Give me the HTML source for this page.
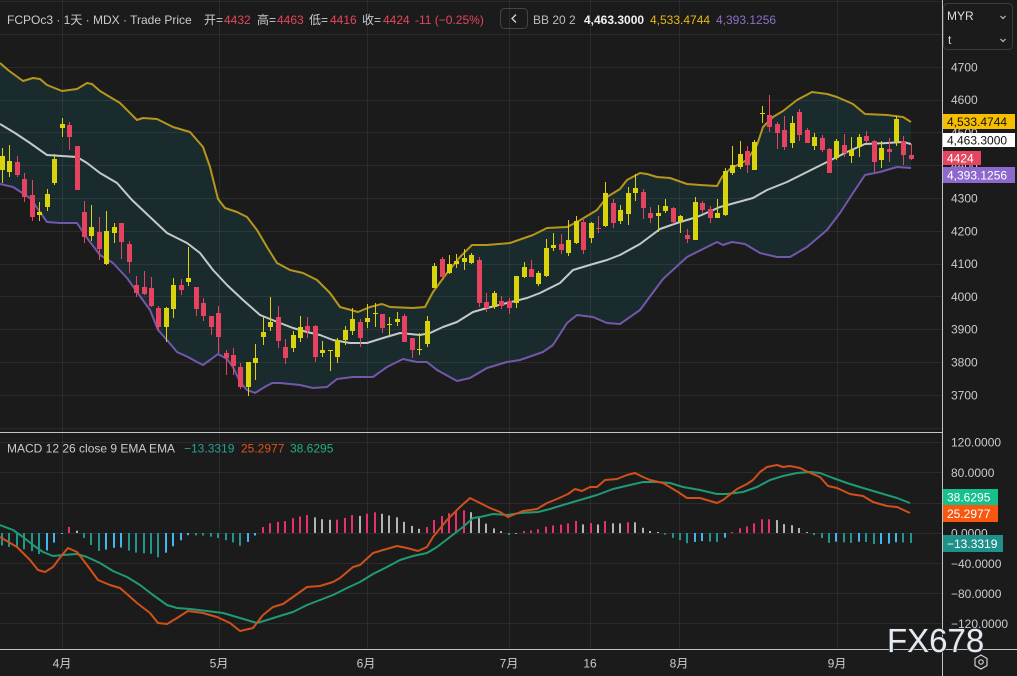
<!DOCTYPE html>
<html>
<head>
<meta charset="utf-8">
<style>
  html,body{margin:0;padding:0;background:#1b1b1b;}
  body{width:1017px;height:676px;overflow:hidden;}
  svg{display:block;}
  text{font-family:"Liberation Sans","Noto Sans CJK SC",sans-serif;}
</style>
</head>
<body>
<svg id="chart" width="1017" height="676" viewBox="0 0 1017 676" xmlns="http://www.w3.org/2000/svg">
  <defs>
    <clipPath id="mainClip"><rect x="0" y="0" width="942" height="432"/></clipPath>
    <clipPath id="macdClip"><rect x="0" y="433" width="942" height="216"/></clipPath>
  </defs>
  <rect x="0" y="0" width="1017" height="676" fill="#1b1b1b"/>

  <!-- Bollinger band fill -->
  <g clip-path="url(#mainClip)">
    <polygon fill="#192b2c" points="0,63 8,70 23,81 33,78 40,79 47,85 62,91 77,89 87,83 92,84 100,91 120,103 137,120 143,118 157,119 173,127 190,132 203,147 210,167 218,199 225,208 237,212 247,217 257,230 267,247 277,263 290,270 303,273 317,280 330,293 340,307 358,312 370,307 382,304 390,307 413,308 425,307 433,292 447,273 460,257 472,245 487,245 510,243 533,235 547,228 567,227 577,222 597,210 607,197 620,189 627,180 640,173 647,174 657,177 670,178 687,184 700,185 717,186 722,177 730,169 747,160 757,145 763,127 773,117 783,111 797,100 812,92 827,94 837,97 853,104 865,114 887,115 903,117 911,122 911,432 0,432"/>
    <polygon fill="#1b1b1b" points="0,184 13,187 30,198 47,222 60,223 77,223 87,238 100,255 113,263 127,278 137,292 150,310 158,330 167,340 177,352 188,357 197,362 203,365 210,360 218,354 227,359 233,367 240,382 247,390 255,393 263,388 272,383 280,383 300,385 313,388 327,387 337,379 353,377 373,377 387,367 403,359 417,362 427,362 437,370 457,381 470,378 487,368 507,362 520,360 543,352 553,345 567,323 577,315 593,317 607,323 620,324 640,310 663,279 687,257 717,242 723,245 732,242 745,244 760,253 777,257 790,257 807,247 827,230 840,213 853,193 865,175 880,172 897,167 911,168 911,432 0,432"/>
  </g>

  <!-- grid -->
  <g stroke="rgba(255,255,255,0.075)" stroke-width="1">
    <line x1="0" x2="942" y1="1.5" y2="1.5"/>
    <line x1="0" x2="942" y1="34.5" y2="34.5"/>
    <line x1="0" x2="942" y1="67.5" y2="67.5"/>
    <line x1="0" x2="942" y1="100.5" y2="100.5"/>
    <line x1="0" x2="942" y1="132.5" y2="132.5"/>
    <line x1="0" x2="942" y1="165.5" y2="165.5"/>
    <line x1="0" x2="942" y1="198.5" y2="198.5"/>
    <line x1="0" x2="942" y1="231.5" y2="231.5"/>
    <line x1="0" x2="942" y1="264.5" y2="264.5"/>
    <line x1="0" x2="942" y1="296.5" y2="296.5"/>
    <line x1="0" x2="942" y1="329.5" y2="329.5"/>
    <line x1="0" x2="942" y1="362.5" y2="362.5"/>
    <line x1="0" x2="942" y1="395.5" y2="395.5"/>
    <line x1="0" x2="942" y1="428.5" y2="428.5"/>
    <line x1="0" x2="942" y1="442.5" y2="442.5"/>
    <line x1="0" x2="942" y1="472.5" y2="472.5"/>
    <line x1="0" x2="942" y1="503.5" y2="503.5"/>
    <line x1="0" x2="942" y1="533.5" y2="533.5"/>
    <line x1="0" x2="942" y1="563.5" y2="563.5"/>
    <line x1="0" x2="942" y1="593.5" y2="593.5"/>
    <line x1="0" x2="942" y1="623.5" y2="623.5"/>
    <line x1="62.5" x2="62.5" y1="0" y2="649"/>
    <line x1="219.5" x2="219.5" y1="0" y2="649"/>
    <line x1="367.5" x2="367.5" y1="0" y2="649"/>
    <line x1="509.5" x2="509.5" y1="0" y2="649"/>
    <line x1="590.5" x2="590.5" y1="0" y2="649"/>
    <line x1="679.5" x2="679.5" y1="0" y2="649"/>
    <line x1="837.5" x2="837.5" y1="0" y2="649"/>
  </g>

  <!-- band lines -->
  <g clip-path="url(#mainClip)" fill="none" stroke-width="2" stroke-linejoin="round">
    <polyline stroke="#b8951c" points="0,63 8,70 23,81 33,78 40,79 47,85 62,91 77,89 87,83 92,84 100,91 120,103 137,120 143,118 157,119 173,127 190,132 203,147 210,167 218,199 225,208 237,212 247,217 257,230 267,247 277,263 290,270 303,273 317,280 330,293 340,307 358,312 370,307 382,304 390,307 413,308 425,307 433,292 447,273 460,257 472,245 487,245 510,243 533,235 547,228 567,227 577,222 597,210 607,197 620,189 627,180 640,173 647,174 657,177 670,178 687,184 700,185 717,186 722,177 730,169 747,160 757,145 763,127 773,117 783,111 797,100 812,92 827,94 837,97 853,104 865,114 887,115 903,117 911,122"/>
    <polyline stroke="#c5c9c9" points="0,124 15,133 30,143 47,155 77,157 87,163 100,173 117,183 132,200 150,217 167,233 187,243 200,253 213,270 227,285 243,300 260,315 280,323 293,328 307,332 320,335 333,340 350,343 367,343 383,338 400,333 420,335 430,333 443,327 457,322 473,312 487,308 507,303 527,298 540,293 560,283 573,270 593,264 607,260 620,255 640,244 660,229 677,223 697,217 720,207 753,198 767,190 787,182 807,172 827,162 847,152 865,144 887,143 903,142 911,144"/>
    <polyline stroke="#7357ab" points="0,184 13,187 30,198 47,222 60,223 77,223 87,238 100,255 113,263 127,278 137,292 150,310 158,330 167,340 177,352 188,357 197,362 203,365 210,360 218,354 227,359 233,367 240,382 247,390 255,393 263,388 272,383 280,383 300,385 313,388 327,387 337,379 353,377 373,377 387,367 403,359 417,362 427,362 437,370 457,381 470,378 487,368 507,362 520,360 543,352 553,345 567,323 577,315 593,317 607,323 620,324 640,310 663,279 687,257 717,242 723,245 732,242 745,244 760,253 777,257 790,257 807,247 827,230 840,213 853,193 865,175 880,172 897,167 911,168"/>
  </g>

  <!-- candles (filled by script) -->
  <g id="candles" clip-path="url(#mainClip)"></g>

  <!-- MACD histogram (script) -->
  <g id="hist" clip-path="url(#macdClip)"></g>

  <!-- MACD lines -->
  <g clip-path="url(#macdClip)" fill="none" stroke-width="2" stroke-linejoin="round">
    <polyline id="sigLine" stroke="#1f9a74" points="0,525 13,530 23,537 33,545 43,552 53,556 63,555 77,554 87,557 100,563 113,571 127,577 140,585 153,595 167,605 177,608 190,609 207,611 223,613 240,618 257,623 267,620 283,615 293,612 307,605 320,600 333,595 347,588 360,582 373,574 387,567 400,560 413,556 427,553 437,547 450,537 463,527 473,518 480,517 493,514 507,515 520,513 538,512 550,509 563,505 580,500 597,495 613,489 630,485 643,482 657,482 670,483 683,487 700,490 717,494 727,494 743,492 757,487 770,480 783,476 797,473 810,472 820,473 833,478 847,483 863,488 880,493 897,498 910,503"/>
    <polyline id="macLine" stroke="#d0501b" points="0,537 17,547 30,560 38,570 45,572 53,567 62,555 68,548 77,552 87,565 98,580 110,585 120,588 128,595 137,603 150,613 158,623 167,624 177,618 188,611 203,613 217,617 230,623 240,631 253,628 263,615 273,607 283,604 293,597 307,587 320,586 333,582 340,578 353,567 360,565 373,553 383,550 397,546 407,548 418,551 427,547 433,537 447,520 460,507 470,498 480,503 490,508 500,512 508,517 513,515 523,511 537,509 547,503 557,499 568,494 575,489 582,491 590,487 597,487 605,480 617,479 627,475 635,473 643,477 650,480 663,483 678,492 687,498 700,498 717,503 723,500 737,489 747,484 753,480 760,472 767,467 777,465 783,467 790,466 800,468 808,472 820,477 828,486 837,488 850,494 863,496 873,502 887,506 897,507 910,513"/>
  </g>

  <!-- separators -->
  <g stroke="#c4c4c4" stroke-width="1">
    <line x1="0" x2="942" y1="432.5" y2="432.5"/>
    <line x1="0" x2="1017" y1="649.5" y2="649.5"/>
    <line x1="942.5" x2="942.5" y1="0" y2="676"/>
  </g>

  <!-- header -->
  <g font-size="12" fill="#c9cbd0">
    <text x="7" y="24">FCPOc3 · 1天 · MDX · Trade Price</text>
    <text x="204" y="24">开=</text><text x="224" y="24" fill="#e5455f">4432</text>
    <text x="257" y="24">高=</text><text x="277" y="24" fill="#e5455f">4463</text>
    <text x="309" y="24">低=</text><text x="330" y="24" fill="#e5455f">4416</text>
    <text x="362" y="24">收=</text><text x="383" y="24" fill="#e5455f">4424</text>
    <text x="415" y="24" fill="#e5455f">-11 (−0.25%)</text>
  </g>
  <rect x="500.5" y="8.5" width="27" height="20" rx="4" fill="none" stroke="#444"/>
  <polyline points="516,14.5 512,18.5 516,22.5" fill="none" stroke="#cfcfcf" stroke-width="1.4"/>
  <g font-size="12">
    <text x="533" y="24" fill="#b9bcc2">BB 20 2</text>
    <text x="584" y="24" fill="#f2f2f2" font-weight="bold">4,463.3000</text>
    <text x="650" y="24" fill="#e8b910">4,533.4744</text>
    <text x="716" y="24" fill="#8a70c8">4,393.1256</text>
  </g>

  <!-- currency box -->
  <rect x="943.5" y="3.5" width="69" height="46" rx="4" fill="#1b1b1b" stroke="#3c3c3c"/>
  <text x="947" y="20" font-size="12" fill="#dcdcdc">MYR</text>
  <text x="948" y="44" font-size="12" fill="#dcdcdc">t</text>
  <polyline points="1000.5,16 1003,18.5 1005.5,16" fill="none" stroke="#bdbdbd" stroke-width="1.2"/>
  <polyline points="1000.5,39 1003,41.5 1005.5,39" fill="none" stroke="#bdbdbd" stroke-width="1.2"/>

  <!-- price axis labels -->
  <g font-size="12" fill="#c9cbd0">
    <text x="951" y="71.3">4700</text>
    <text x="951" y="104.1">4600</text>
    <text x="951" y="136.9">4500</text>
    <text x="951" y="169.7">4400</text>
    <text x="951" y="202.5">4300</text>
    <text x="951" y="235.3">4200</text>
    <text x="951" y="268.1">4100</text>
    <text x="951" y="300.9">4000</text>
    <text x="951" y="333.7">3900</text>
    <text x="951" y="366.5">3800</text>
    <text x="951" y="399.3">3700</text>
  </g>
  <!-- price boxes -->
  <rect x="943" y="114" width="72" height="15" fill="#f5bf00"/>
  <text x="947" y="126" font-size="12" fill="#111">4,533.4744</text>
  <rect x="943" y="133" width="72" height="14" fill="#ffffff"/>
  <text x="947" y="144.5" font-size="12" fill="#111">4,463.3000</text>
  <rect x="943" y="151" width="38" height="14" fill="#e5455f"/>
  <text x="947" y="162.5" font-size="12" fill="#ffffff">4424</text>
  <rect x="943" y="167" width="72" height="16" fill="#8d69cf"/>
  <text x="947" y="179.5" font-size="12" fill="#ffffff">4,393.1256</text>

  <!-- MACD legend -->
  <g font-size="12">
    <text x="7" y="452.5" fill="#c9cbd0">MACD 12 26 close 9 EMA EMA</text>
    <text x="184" y="452.5" fill="#26a096">−13.3319</text>
    <text x="241" y="452.5" fill="#e0541c">25.2977</text>
    <text x="290" y="452.5" fill="#22b07f">38.6295</text>
  </g>

  <!-- MACD axis -->
  <g font-size="12" fill="#c9cbd0">
    <text x="951" y="446.5">120.0000</text>
    <text x="951" y="476.8">80.0000</text>
    <text x="951" y="507.3">40.0000</text>
    <text x="951" y="537.5">0.0000</text>
    <text x="951" y="567.8">−40.0000</text>
    <text x="951" y="597.8">−80.0000</text>
    <text x="951" y="627.8">−120.0000</text>
  </g>
  <rect x="943" y="489" width="55" height="16" fill="#16c08b"/>
  <text x="947" y="501.5" font-size="12" fill="#ffffff">38.6295</text>
  <rect x="943" y="505" width="55" height="17" fill="#f8570e"/>
  <text x="947" y="518" font-size="12" fill="#ffffff">25.2977</text>
  <rect x="943" y="535" width="60" height="17" fill="#1e918a"/>
  <text x="947" y="548" font-size="12" fill="#ffffff">−13.3319</text>

  <!-- time axis -->
  <g font-size="12" fill="#c9cbd0" text-anchor="middle">
    <text x="62" y="667.5">4月</text>
    <text x="219" y="667.5">5月</text>
    <text x="366" y="667.5">6月</text>
    <text x="509" y="667.5">7月</text>
    <text x="590" y="667.5">16</text>
    <text x="679" y="667.5">8月</text>
    <text x="837" y="667.5">9月</text>
  </g>
  <!-- settings icon -->
  <polygon points="981,655 987,658.5 987,665.5 981,669 975,665.5 975,658.5" fill="none" stroke="#cfcfcf" stroke-width="1.2"/>
  <circle cx="981" cy="662" r="2.2" fill="none" stroke="#cfcfcf" stroke-width="1.2"/>

  <!-- watermark -->
  <text x="887" y="652" font-size="33" fill="#e4ebf3" stroke="#2a2a2a" stroke-width="1.5" paint-order="stroke">FX678</text>
</svg>

<script>
(function(){
  var NS="http://www.w3.org/2000/svg";
  // [up(1)/down(0), bodyTop, bodyBottom, wickTop, wickBottom] in pixel coordinates
  var C=[[1,156,170,148,183],[1,161,172,145,177],[0,162,175,156,177],[0,179,197,173,202],[0,195,217,180,221],[1,212,215,202,221],[1,194,207,189,211],[1,159,183,154,185],[1,124,128,118,137],[0,125,137,122,150],
  [0,146,190,146,190],[0,212,237,201,243],[1,227,236,205,241],[0,232,249,217,260],[1,231,264,211,265],[1,227,233,223,243],[0,223,242,223,259],[0,244,262,241,273],[0,285,293,276,297],[0,287,294,271,295],
  [0,288,306,277,307],[0,308,327,306,330],[1,308,327,307,342],[1,285,309,278,318],[0,285,290,279,295],[1,278,282,247,286],[0,287,309,287,316],[0,303,316,298,321],[0,316,327,316,335],[0,313,337,306,353],
  [0,353,358,350,375],[0,355,366,348,375],[0,367,387,363,389],[1,362,387,362,396],[1,358,363,344,380],[1,332,337,317,345],[1,322,327,297,331],[0,317,341,306,348],[0,347,358,339,364],[1,335,348,331,352],
  [1,327,338,316,342],[0,326,331,317,338],[0,326,357,325,362],[1,350,353,341,357],[1,350,351,350,371],[1,340,357,338,363],[1,330,340,326,345],[1,319,331,308,335],[0,322,338,319,347],[1,318,322,304,328],
  [1,313,314,303,327],[0,314,328,314,333],[1,324,325,317,335],[1,319,322,312,326],[0,316,342,314,342],[0,338,350,338,358],[1,349,350,333,355],[1,321,344,316,347],[1,266,288,263,288],[0,259,277,257,277],
  [1,264,273,255,274],[1,261,264,254,268],[1,258,262,249,270],[1,255,263,253,264],[0,260,303,257,307],[0,302,308,293,312],[1,293,307,291,309],[0,301,306,296,309],[0,301,308,298,314],[1,276,303,276,308],
  [1,267,277,262,278],[0,269,277,260,277],[1,273,284,271,286],[1,248,276,239,277],[1,245,248,233,251],[0,244,250,234,254],[1,240,253,220,256],[1,221,243,216,244],[0,222,250,218,254],[1,223,238,222,243],
  [0,228,229,216,233],[1,193,226,182,227],[0,203,223,199,228],[1,210,221,205,224],[1,193,214,187,225],[1,188,193,174,201],[0,192,208,189,219],[0,213,218,207,223],[1,213,216,205,232],[1,206,211,199,213],
  [0,208,222,207,224],[1,216,222,215,233],[0,235,239,229,243],[1,202,240,197,240],[0,203,210,201,213],[0,209,218,206,223],[1,213,218,199,218],[1,171,215,168,216],[1,165,173,146,175],[1,154,167,141,169],
  [0,151,165,146,173],[1,142,170,140,170],[1,113,114,106,123],[0,115,127,95,132],[0,124,133,122,149],[0,130,147,116,150],[1,123,143,116,148],[0,112,135,109,141],[0,130,143,128,143],[1,137,146,133,150],
  [0,138,150,135,152],[0,149,173,148,173],[1,141,158,139,160],[0,145,153,134,157],[1,150,156,137,163],[1,137,147,134,157],[0,136,141,131,143],[0,141,162,140,172],[1,148,160,141,168],[0,149,152,138,162],
  [1,119,142,116,146],[0,141,155,136,165],[0,155,159,144,160]];
  var UP="#d9d30c", DN="#e5435f";
  var g=document.getElementById("candles");
  var s="";
  for(var i=0;i<C.length;i++){
    var c=C[i], x=2+7.45*i, xr=Math.round(x), col=c[0]?UP:DN;
    s+='<rect x="'+(xr)+'" y="'+c[3]+'" width="1" height="'+Math.max(1,c[4]-c[3])+'" fill="'+col+'"/>';
    s+='<rect x="'+(xr-2)+'" y="'+c[1]+'" width="5" height="'+Math.max(1,c[2]-c[1])+'" fill="'+col+'"/>';
  }
  g.innerHTML=s;

  function pts(id){return document.getElementById(id).getAttribute("points").trim().split(/\s+/).map(function(p){return p.split(",").map(Number);});}
  function interp(P,x){
    if(x<=P[0][0]) return P[0][1];
    for(var k=1;k<P.length;k++){ if(x<=P[k][0]){var a=P[k-1],b=P[k];return a[1]+(b[1]-a[1])*(x-a[0])/(b[0]-a[0]);} }
    return P[P.length-1][1];
  }
  var sig=pts("sigLine"), mac=pts("macLine");
  var h2="", prev=null;
  for(var j=0;j<123;j++){
    var hx=2+7.45*j, h=interp(sig,hx)-interp(mac,hx), col;
    if(h>=0){ col=(prev===null||h>=prev)?"#e8306c":"#b3b3b3"; }
    else { col=(prev===null||h<prev)?"#1f978f":"#40b6f2"; }
    prev=h;
    var hh=Math.max(1,Math.abs(h));
    var yy=h>=0?533-hh:533;
    h2+='<rect x="'+(Math.round(hx)-1)+'" y="'+yy.toFixed(1)+'" width="2" height="'+hh.toFixed(1)+'" fill="'+col+'"/>';
  }
  document.getElementById("hist").innerHTML=h2;
})();
</script>
</body>
</html>
